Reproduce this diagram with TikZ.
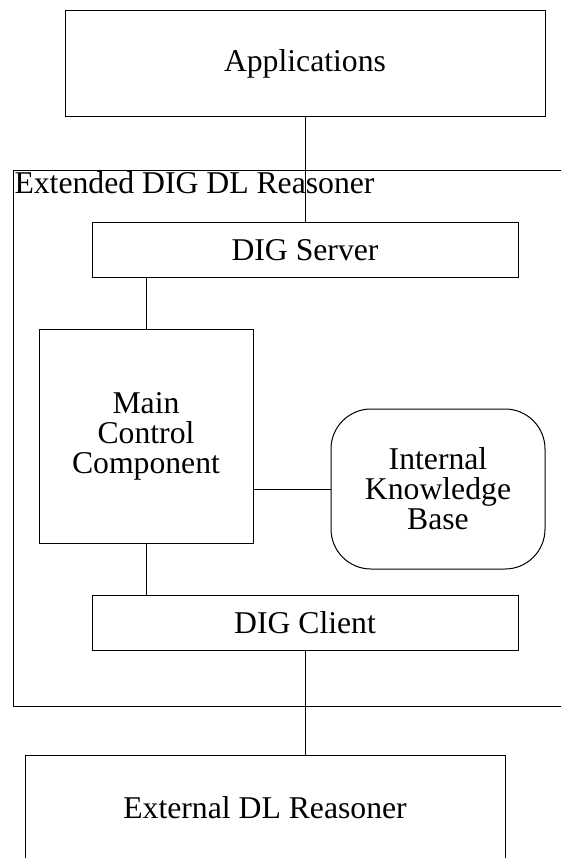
\documentclass[tikz,border=0pt]{standalone}
\usepackage{fontspec}
\setmainfont{Liberation Serif}

\begin{document}
\begin{tikzpicture}[x=1pt, y=-1pt, line width=1pt,
    every node/.style={font=\fontsize{31.7}{30}\selectfont, align=center},
    box/.style={draw, inner sep=0pt},
    roundbox/.style={draw, inner sep=0pt, rounded corners=40pt}]
    \useasboundingbox (0,0) rectangle (560,858);
    % outer reasoner frame
    \node [box, anchor=north west, minimum width=600pt, minimum height=536pt] (reasoner) at (13,170) {};
    \node [anchor=north west, inner sep=1pt] (reasonerlabel) at (13,170) {Extended DIG DL Reasoner};
    % components
    \node [box, minimum width=480pt, minimum height=106pt] (apps) at (305,64) {Applications};
    \node [box, minimum width=426pt, minimum height=54pt] (server) at (305,250) {DIG Server};
    \node [box, minimum width=214pt, minimum height=214pt] (main) at (146,436) {Main\\Control\\Component};
    \node [roundbox, minimum width=214pt, minimum height=160pt] (ikb) at (438,489) {Internal\\Knowledge\\Base};
    \node [box, minimum width=426pt, minimum height=55pt] (client) at (305,622.5) {DIG Client};
    \node [box, minimum width=480pt, minimum height=106pt] (ext) at (265,808) {External DL Reasoner};
    % connections
    \draw (apps.south) -- (server.north);
    \draw (main.north) -- (main.north |- server.south);
    \draw (ikb.west) -- (ikb.west -| main.east);
    \draw (main.south) -- (main.south |- client.north);
    \draw (client.south) -- (client.south |- ext.north);
\end{tikzpicture}
\end{document}
